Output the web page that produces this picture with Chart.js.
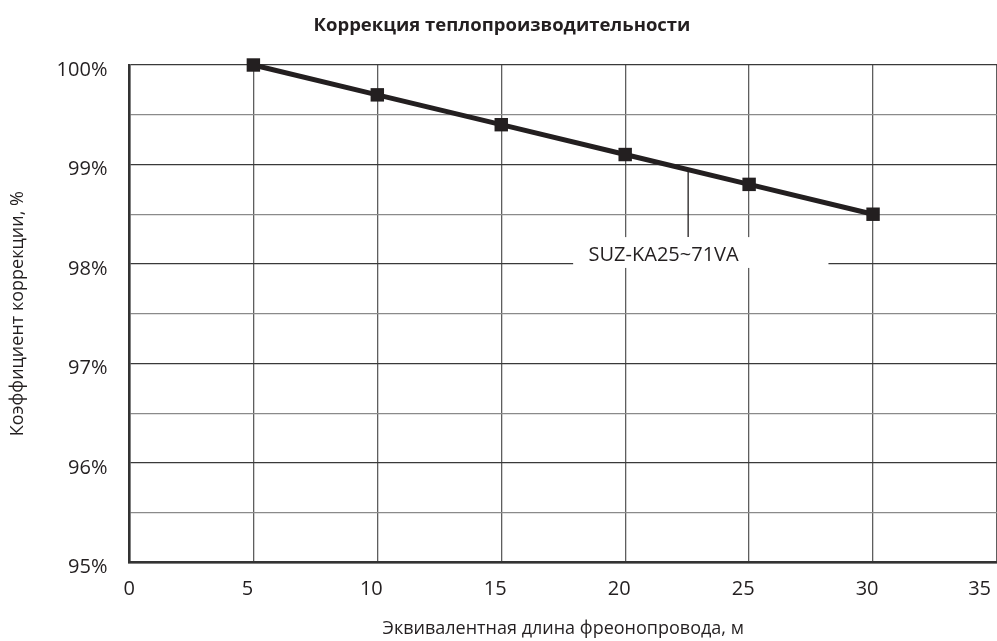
<!DOCTYPE html>
<html>
<head>
<meta charset="utf-8">
<script src="https://cdn.jsdelivr.net/npm/chart.js@4/dist/chart.umd.min.js"></script>
<style>
  html, body { margin: 0; padding: 0; background: #fff; overflow: hidden; }
</style>
</head>
<body>
<canvas id="chart" width="997" height="641"></canvas>
<script>
// pipe length, m
var lengths = [5, 10, 15, 20, 25, 30];
// correction factor, %
var factors = [100, 99.7, 99.4, 99.1, 98.8, 98.5];
var seriesName = "SUZ-KA25~71VA";

var ink = "#231f20";
var font = "'Open Sans', sans-serif";

// label with leader line, in data units
var callout = {
  text: seriesName,
  lineX: 22.54, lineFrom: 98.95, lineTo: 98.27,
  boxX1: 17.9, boxX2: 28.2, boxY1: 98.27, boxY2: 97.96,
  textX: 21.55, textY: 98.09
};

var calloutPlugin = {
  id: "callout",
  beforeDatasetsDraw: function (chart) {
    var c = chart.ctx, xs = chart.scales.x, ys = chart.scales.y;
    c.save();
    c.fillStyle = "#fff";
    var x1 = xs.getPixelForValue(callout.boxX1), x2 = xs.getPixelForValue(callout.boxX2);
    var y1 = ys.getPixelForValue(callout.boxY1), y2 = ys.getPixelForValue(callout.boxY2);
    c.fillRect(x1, y1, x2 - x1, y2 - y1);
    c.strokeStyle = ink;
    c.lineWidth = 1.3;
    c.beginPath();
    c.moveTo(xs.getPixelForValue(callout.lineX), ys.getPixelForValue(callout.lineFrom));
    c.lineTo(xs.getPixelForValue(callout.lineX), ys.getPixelForValue(callout.lineTo));
    c.stroke();
    c.fillStyle = ink;
    c.font = "20px " + font;
    c.textAlign = "center";
    c.textBaseline = "middle";
    c.fillText(callout.text, xs.getPixelForValue(callout.textX), ys.getPixelForValue(callout.textY));
    c.restore();
  }
};

new Chart(document.getElementById("chart").getContext("2d"), {
  type: "line",
  data: {
    datasets: [
      {
        label: seriesName,
        data: lengths.map(function (x, i) { return { x: x, y: factors[i] }; }),
        borderColor: ink,
        backgroundColor: ink,
        borderWidth: 5,
        pointStyle: "rect",
        pointRadius: 9.5,
        pointBorderWidth: 0,
        pointBackgroundColor: ink,
        tension: 0,
        clip: false,
      },
    ],
  },
  plugins: [calloutPlugin],
  options: {
    responsive: false,
    animation: false,
    layout: { autoPadding: false, padding: { top: 0, left: 7, right: 0, bottom: 1 } },
    plugins: {
      legend: { display: false },
      tooltip: { enabled: false },
      title: {
        display: true,
        text: "Коррекция теплопроизводительности",
        color: ink,
        font: { family: font, size: 18.5, weight: "bold" },
        padding: { top: 15, bottom: 27.8 },
      },
    },
    scales: {
      x: {
        type: "linear",
        min: 0,
        max: 35,
        afterFit: function (s) { s.paddingRight = 0; },
        ticks: {
          stepSize: 5,
          align: "inner",
          labelOffset: -6,
          color: ink,
          padding: 15,
          font: { family: font, size: 20 },
        },
        grid: { color: "#5e5e5e", lineWidth: 1.3, drawTicks: false },
        border: { color: "#333", width: 2.5 },
        title: {
          display: true,
          text: "Эквивалентная длина фреонопровода, м",
          color: ink,
          font: { family: font, size: 18 },
          padding: { top: 2, bottom: 0 },
        },
      },
      y: {
        min: 95,
        max: 100,
        ticks: {
          stepSize: 0.5,
          autoSkip: false,
          labelOffset: 5,
          color: ink,
          padding: 22,
          font: { family: font, size: 20 },
          callback: function (v) { return v % 1 === 0 ? v + "%" : ""; },
        },
        grid: {
          color: function (ctx) { return ctx.tick && ctx.tick.value % 1 === 0 ? "#3a3a3a" : "#8a8a8a"; },
          lineWidth: 1.3,
          drawTicks: false,
        },
        border: { color: "#333", width: 2.5 },
        title: {
          display: true,
          text: "Коэффициент коррекции, %",
          color: ink,
          font: { family: font, size: 18 },
          padding: { top: 0, bottom: 6 },
        },
      },
    },
  },
});
</script>
</body>
</html>
